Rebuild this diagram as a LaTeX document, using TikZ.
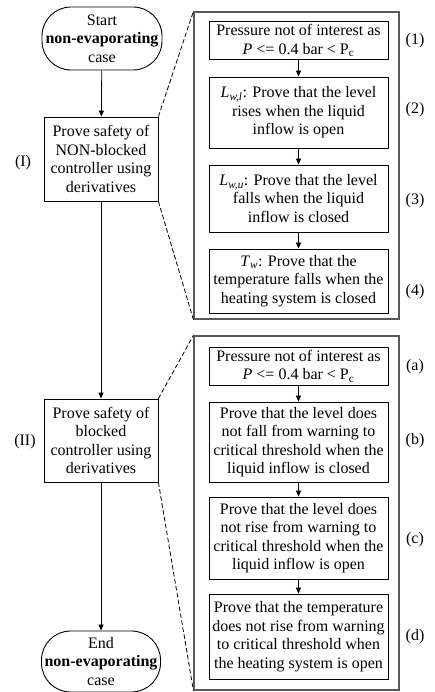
\documentclass[tikz,border=0pt]{standalone}
\usepackage{fontspec}
\setmainfont{Liberation Serif}
\usetikzlibrary{arrows.meta}
\newcommand{\subit}[2]{\textit{#1}\textsubscript{\textit{#2}}}
\begin{document}
\begin{tikzpicture}[x=1pt,y=-1pt,
  every node/.style={font=\fontsize{16}{18.5}\selectfont, align=center, inner sep=0pt},
  ibox/.style={draw, line width=0.8pt, minimum width=179pt},
  mbox/.style={draw, line width=0.8pt, minimum width=114pt},
  term/.style={draw, line width=0.9pt, rounded corners=29pt, minimum width=120pt},
  obox/.style={draw=black!65, line width=1.2pt, minimum width=205pt},
  arr/.style={-{Triangle[length=6pt,width=5pt]}, line width=0.8pt},
  zoomline/.style={dash pattern=on 4.5pt off 2.5pt, line width=0.8pt},
  lab/.style={}]
\useasboundingbox (0,0) rectangle (434,692);

% outer frames
\node[obox, minimum height=307pt] (o1) at (296.5,165.5) {};
\node[obox, minimum height=354pt] (o2) at (296.5,513) {};

% main column
\node[term, minimum height=63pt] (start) at (102,38.5) {Start\\\textbf{non-evaporating}\\case};
\node[mbox, minimum height=84pt] (m1) at (101,159) {Prove safety of\\NON-blocked\\controller using\\derivatives};
\node[mbox, minimum height=83pt] (m2) at (101,440.5) {Prove safety of\\blocked\\controller using\\derivatives};
\node[term, minimum height=61pt, minimum width=119pt] (end) at (101,661.5) {End\\\textbf{non-evaporating}\\case};

\node[lab] (l1) at (23,163) {(I)};
\node[lab] (l2) at (25,442) {(II)};

% inner boxes, part I
\node[ibox, minimum height=38pt] (b1) at (298.5,40.5) {Pressure not of interest as\\\textit{P} <= 0.4 bar < P\textsubscript{c}};
\node[ibox, minimum height=71pt] (b2) at (298.5,112.5) {\subit{L}{w,l}: Prove that the level\\rises when the liquid\\inflow is open};
\node[ibox, minimum height=67pt] (b3) at (298.5,198.5) {\subit{L}{w,u}: Prove that the level\\falls when the liquid\\inflow is closed};
\node[ibox, minimum height=64pt] (b4) at (298.5,281) {\subit{T}{w}: Prove that the\\temperature falls when the\\heating system is closed};

% inner boxes, part II
\node[ibox, minimum height=38pt] (ba) at (298.5,366) {Pressure not of interest as\\\textit{P} <= 0.4 bar < P\textsubscript{c}};
\node[ibox, minimum height=80pt] (bb) at (298.5,442) {Prove that the level does\\not fall from warning to\\critical threshold when the\\liquid inflow is closed};
\node[ibox, minimum height=82pt] (bc) at (298.5,538) {Prove that the level does\\not rise from warning to\\critical threshold when the\\liquid inflow is open};
\node[ibox, minimum height=85pt] (bd) at (298.5,636.5) {Prove that the temperature\\does not rise from warning\\to critical threshold when\\the heating system is open};

% step labels
\node[lab] (n1) at (415,41) {(1)};
\node[lab] (n2) at (415,110) {(2)};
\node[lab] (n3) at (415,201) {(3)};
\node[lab] (n4) at (415,292) {(4)};
\node[lab] (na) at (415,367) {(a)};
\node[lab] (nb) at (415,441) {(b)};
\node[lab] (nc) at (415,540) {(c)};
\node[lab] (nd) at (415,637) {(d)};

% arrows
\draw[arr] (start) -- (m1);
\draw[arr] (m1) -- (m2);
\draw[arr] (m2) -- (end);
\draw[arr] (b1) -- (b2);
\draw[arr] (b2) -- (b3);
\draw[arr] (b3) -- (b4);
\draw[arr] (ba) -- (bb);
\draw[arr] (bb) -- (bc);
\draw[arr] (bc) -- (bd);

% zoom lines
\draw[zoomline] (m1.north east) -- (o1.north west);
\draw[zoomline] (m1.south east) -- (o1.south west);
\draw[zoomline] (m2.north east) -- (o2.north west);
\draw[zoomline] (m2.south east) -- (o2.south west);
\end{tikzpicture}
\end{document}
